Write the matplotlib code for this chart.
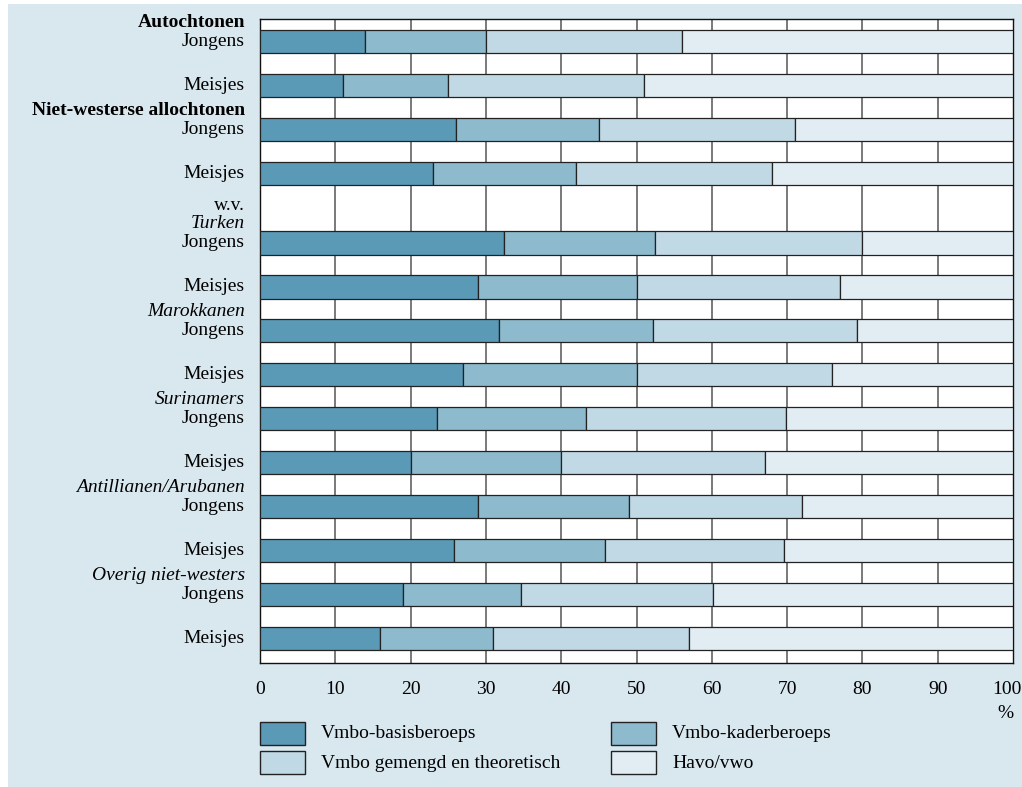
import matplotlib
matplotlib.use("Agg")
import matplotlib.pyplot as plt
from matplotlib.patches import Rectangle
from matplotlib.transforms import blended_transform_factory, ScaledTranslation
import numpy as np

# ---- data ----
groups = ["Autochtonen", "Niet-westerse allochtonen", "Turken", "Marokkanen",
          "Surinamers", "Antillianen/Arubanen", "Overig niet-westers"]
sexes = ["Jongens", "Meisjes"]
series = ["Vmbo-basisberoeps", "Vmbo-kaderberoeps",
          "Vmbo gemengd en theoretisch", "Havo/vwo"]

basis = [14, 11, 26, 23, 32.4, 29, 31.8, 27, 23.5, 20, 29, 25.8, 19, 16]
kader = [16, 14, 19, 19, 20.1, 21, 20.4, 23, 19.8, 20, 20, 20.0, 15.7, 15]
gemengd = [26, 26, 26, 26, 27.5, 27, 27.1, 26, 26.6, 27, 23, 23.8, 25.5, 26]
havo = [44, 49, 29, 32, 20.0, 23, 20.7, 24, 30.1, 33, 28, 30.4, 39.8, 43]

xticks = [0, 10, 20, 30, 40, 50, 60, 70, 80, 90, 100]

# ---- style ----
colors = ["#5a9ab7", "#8dbacd", "#c1d9e5", "#e2edf3"]
panel = "#d9e7ef"
FONT = "Liberation Serif"
FS = 14

W, H = 1022, 787
fig = plt.figure(figsize=(W / 100, H / 100), dpi=100)
fig.patch.set_facecolor("white")
fig.add_artist(Rectangle((8 / W, 0), 1 - 8 / W, (H - 4) / H,
                         transform=fig.transFigure, facecolor=panel,
                         edgecolor="none", zorder=0))

ax = fig.add_axes([260 / W, (H - 663) / H, 753 / W, 644 / H])
ax.set_facecolor("white")

n = len(basis)
gap = 0.58
ypos = np.array([i + (gap if i >= 4 else 0) for i in range(n)])
bh = 0.534

left = np.zeros(n)
for vals, c in zip([basis, kader, gemengd, havo], colors):
    ax.barh(ypos, vals, left=left, height=bh, color=c, edgecolor="#222222",
            linewidth=0.9, zorder=3)
    left = left + np.array(vals)

ax.set_xlim(0, 100)
ax.set_ylim(ypos[-1] + 0.557, -0.511)
ax.set_xticks(xticks)
ax.set_xticklabels([str(t) for t in xticks], fontfamily=FONT, fontsize=FS)
ax.tick_params(axis="x", length=0, pad=13)
last = ax.get_xticklabels()[-1]
last.set_transform(last.get_transform() + ScaledTranslation(-6 / 100, 0, fig.dpi_scale_trans))
ax.set_yticks([])
for x in xticks[1:-1]:
    ax.axvline(x, color="#555555", linewidth=1.1, zorder=1)
for s in ax.spines.values():
    s.set_color("#111111")
    s.set_linewidth(1.0)

tr = blended_transform_factory(ax.transAxes, ax.transData)
xl = (245 - 260) / 753
for i in range(n):
    ax.text(xl, ypos[i], sexes[i % 2], transform=tr, ha="right", va="center",
            fontfamily=FONT, fontsize=FS)
for g, name in enumerate(groups):
    yj = ypos[2 * g]
    style = "normal"
    weight = "bold" if g < 2 else "normal"
    if g >= 2:
        style = "italic"
    ax.text(xl, yj - 0.43, name, transform=tr, ha="right", va="center",
            fontfamily=FONT, fontsize=FS, fontweight=weight, fontstyle=style)
    if name == "Turken":
        ax.text(xl, yj - 0.86, "w.v.", transform=tr, ha="right", va="center",
                fontfamily=FONT, fontsize=FS)

fig.text(1005 / W, 1 - 713 / H, "%", ha="center", va="center",
         fontfamily=FONT, fontsize=FS)

# ---- legend ----
px = [260, 611]
py = [722, 751]
for k, (lab, c) in enumerate(zip(series, colors)):
    col = k % 2
    row = k // 2
    x0 = px[col]
    y0 = py[row]
    fig.add_artist(Rectangle((x0 / W, 1 - (y0 + 23) / H), 45 / W, 23 / H,
                             transform=fig.transFigure, facecolor=c,
                             edgecolor="#222222", linewidth=1.0, zorder=2))
    fig.text((x0 + 61) / W, 1 - (y0 + 12) / H, lab, ha="left", va="center",
             fontfamily=FONT, fontsize=FS)

fig.savefig("out.png", dpi=100, facecolor=fig.get_facecolor())
